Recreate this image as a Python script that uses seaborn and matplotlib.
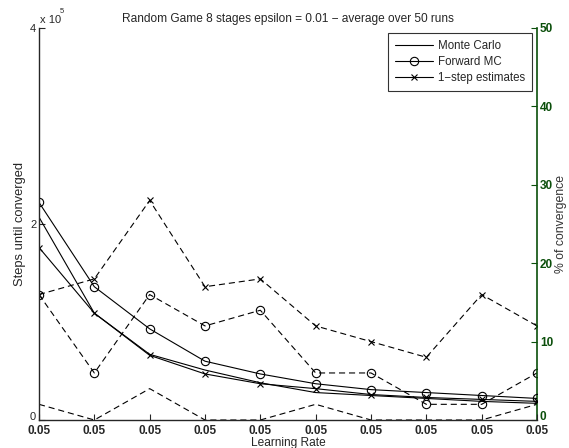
import matplotlib
matplotlib.use('Agg')
import matplotlib.pyplot as plt
import matplotlib.transforms as mtransforms
import seaborn as sns

# data (steps in absolute counts, convergence in %)
positions = list(range(1, 11))
rate_labels = ['0.05'] * 10

mc_steps = [207000, 109000, 67000, 51000, 38000, 28000, 25000, 22000, 19000, 17000]
fmc_steps = [222000, 136000, 93000, 60000, 47000, 37000, 31000, 28000, 25000, 22000]
onestep_steps = [176000, 109000, 66000, 47000, 37000, 32000, 26000, 23000, 21000, 19000]

mc_conv = [2, 0, 4, 0, 0, 2, 0, 0, 0, 2]
fmc_conv = [16, 6, 16, 12, 14, 6, 6, 2, 2, 6]
onestep_conv = [16, 18, 28, 17, 18, 12, 10, 8, 16, 12]

green = '#0b4f0b'
dash = (0, (5.5, 3.5))

sns.set_style('ticks')
plt.rcParams['font.family'] = ['Liberation Sans', 'DejaVu Sans']

fig = plt.figure(figsize=(5.69, 4.48), dpi=100)
ax = fig.add_axes([39 / 569, 28 / 448, 498 / 569, 392 / 448])
ax2 = ax.twinx()

# steps until converged (left axis, solid)
sns.lineplot(x=positions, y=mc_steps, ax=ax, color='black', lw=0.8,
             label='Monte Carlo')
sns.lineplot(x=positions, y=fmc_steps, ax=ax, color='black', lw=0.8,
             marker='o', markersize=6, markerfacecolor='none',
             markeredgecolor='black', markeredgewidth=0.8, label='Forward MC')
sns.lineplot(x=positions, y=onestep_steps, ax=ax, color='black', lw=0.8,
             marker='x', markersize=4, markeredgecolor='black',
             markeredgewidth=0.8, label='1\u2212step estimates')

# % of convergence (right axis, dashed)
sns.lineplot(x=positions, y=mc_conv, ax=ax2, color='black', lw=0.8,
             linestyle=dash)
sns.lineplot(x=positions, y=fmc_conv, ax=ax2, color='black', lw=0.8,
             linestyle=dash, marker='o', markersize=6, markerfacecolor='none',
             markeredgecolor='black', markeredgewidth=0.8)
sns.lineplot(x=positions, y=onestep_conv, ax=ax2, color='black', lw=0.8,
             linestyle=dash, marker='x', markersize=4, markeredgecolor='black',
             markeredgewidth=0.8)

ax.set_xlim(1, 10)
ax.set_ylim(0, 400000)
ax2.set_ylim(0, 50)

ax.set_xticks(positions)
ax.set_xticklabels(rate_labels, fontweight='bold', fontsize=8.5)
ax.set_yticks([0, 200000, 400000])
ax.set_yticklabels(['0', '2', '4'], fontsize=8)
ax2.set_yticks([0, 10, 20, 30, 40, 50])
ax2.set_yticklabels(['0', '10', '20', '30', '40', '50'], fontweight='bold',
                    fontsize=8.5, color=green)

ax.tick_params(direction='in', length=4, width=0.8, pad=2)
ax.tick_params(axis='x', pad=3.5)
ax2.tick_params(direction='in', length=4, width=0.8, color=green, pad=2)

# lift the two "0" labels a little so they sit above the x tick labels
lift = mtransforms.ScaledTranslation(0, 3 / 72, fig.dpi_scale_trans)
for lbl in (ax.get_yticklabels()[0], ax2.get_yticklabels()[0]):
    lbl.set_transform(lbl.get_transform() + lift)

for s in ['top', 'right']:
    ax.spines[s].set_visible(False)
for s in ['top', 'left', 'bottom']:
    ax2.spines[s].set_visible(False)
ax.spines['left'].set_linewidth(1.0)
ax.spines['bottom'].set_linewidth(1.0)
ax2.spines['right'].set_color(green)
ax2.spines['right'].set_linewidth(1.2)

ax.set_title('Random Game 8 stages epsilon = 0.01 \u2212 average over 50 runs',
             fontsize=8.6, pad=4)
ax.set_xlabel('Learning Rate', fontsize=8.6, labelpad=0)
ax.set_ylabel('Steps until converged', fontsize=9.3, labelpad=3)
ax2.set_ylabel('% of convergence', fontsize=8.8, labelpad=1.5, color='#333333')

ax.text(0.002, 1.008, 'x 10', transform=ax.transAxes, fontsize=8,
        va='bottom', ha='left')
ax.text(0.042, 1.032, '5', transform=ax.transAxes, fontsize=5.5,
        va='bottom', ha='left')

leg = ax.legend(loc='upper right', bbox_to_anchor=(0.990, 0.987),
                borderaxespad=0, fontsize=8.3, frameon=True, fancybox=False,
                edgecolor='black', handlelength=3.3, borderpad=0.6,
                labelspacing=0.35, handletextpad=0.45)
leg.get_frame().set_linewidth(0.8)
ax2.set_zorder(ax.get_zorder() - 1)
ax.patch.set_visible(False)

fig.savefig('out.png', dpi=100)
